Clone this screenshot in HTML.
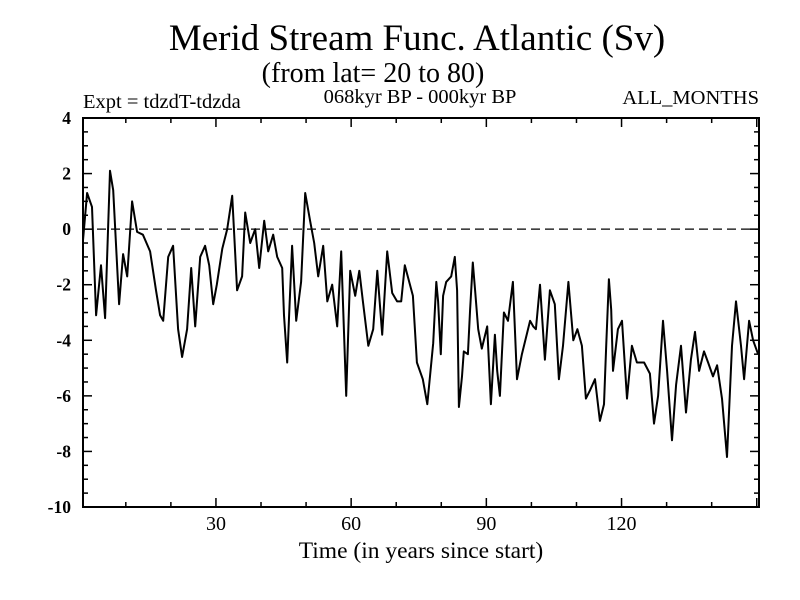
<!DOCTYPE html>
<html><head><meta charset="utf-8"><style>
html,body{margin:0;padding:0;background:#fff;}
svg{display:block;font-family:"Liberation Serif",serif;}
</style></head><body>
<svg width="800" height="600" id="chart">
<text x="417" y="50" font-size="37" text-anchor="middle">Merid Stream Func. Atlantic (Sv)</text>
<text x="373" y="82" font-size="28" text-anchor="middle">(from lat= 20 to 80)</text>
<text x="83" y="108" font-size="20.5">Expt = tdzdT-tdzda</text>
<text x="420" y="103" font-size="20.5" text-anchor="middle">068kyr BP - 000kyr BP</text>
<text x="759" y="104" font-size="20.5" text-anchor="end">ALL_MONTHS</text>
<text x="421" y="558" font-size="23.5" text-anchor="middle">Time (in years since start)</text>
<g id="axes"></g>
<g id="plot"></g>
</svg>
<script>
const years = [0.5,1.4,2.5,3.4,4.5,5.4,6.5,7.2,8.5,9.4,10.3,11.4,12.5,13.8,15.4,16.7,17.6,18.3,19.4,20.5,21.6,22.5,23.6,24.5,25.4,26.5,27.6,28.5,29.4,30.2,31.4,32.5,33.6,34.7,35.8,36.5,37.6,38.7,39.6,40.7,41.6,42.7,43.6,44.7,45.1,45.8,46.2,46.9,47.8,48.9,49.8,50.9,51.8,52.7,53.8,54.7,55.8,56.9,57.8,58.9,59.8,60.9,61.8,62.6,63.8,64.9,65.8,66.9,68.0,69.1,70.2,71.1,71.9,73.7,74.6,75.9,76.9,78.2,78.9,79.3,79.9,80.4,81.1,82.2,83.0,83.5,83.9,84.6,85.0,85.9,86.4,87.0,87.5,88.2,89.0,90.2,91.0,91.9,92.4,93.0,93.9,94.8,95.9,96.8,97.9,99.7,100.4,101.0,101.9,103.0,104.1,105.2,106.1,107.0,108.2,109.3,110.2,111.2,112.1,113.0,114.1,115.2,116.1,116.6,117.2,117.7,118.1,119.2,120.1,121.2,122.3,123.4,125.0,126.3,127.2,128.1,129.2,130.1,131.2,132.1,133.2,134.3,135.4,136.3,137.2,138.3,139.2,140.3,141.2,142.3,143.4,144.5,145.4,146.5,147.2,148.3,149.2,150.3];
const values = [-0.4,1.3,0.8,-3.1,-1.3,-3.2,2.1,1.4,-2.7,-0.9,-1.7,1.0,-0.1,-0.2,-0.8,-2.2,-3.1,-3.3,-1.0,-0.6,-3.6,-4.6,-3.6,-1.4,-3.5,-1.0,-0.6,-1.3,-2.7,-2.0,-0.7,0.0,1.2,-2.2,-1.7,0.6,-0.5,0.0,-1.4,0.3,-0.8,-0.2,-1.0,-1.4,-3.1,-4.8,-3.2,-0.6,-3.3,-1.9,1.3,0.3,-0.5,-1.7,-0.6,-2.6,-2.0,-3.5,-0.8,-6.0,-1.5,-2.4,-1.5,-2.6,-4.2,-3.6,-1.5,-3.8,-0.8,-2.3,-2.6,-2.6,-1.3,-2.4,-4.8,-5.4,-6.3,-4.1,-1.9,-2.6,-4.5,-2.4,-1.9,-1.7,-1.0,-2.2,-6.4,-5.3,-4.4,-4.5,-2.9,-1.2,-2.2,-3.6,-4.3,-3.5,-6.3,-3.8,-5.1,-6.0,-3.0,-3.3,-1.9,-5.4,-4.5,-3.3,-3.5,-3.6,-2.0,-4.7,-2.2,-2.7,-5.4,-4.2,-1.9,-4.0,-3.6,-4.2,-6.1,-5.8,-5.4,-6.9,-6.3,-4.2,-1.8,-2.9,-5.1,-3.6,-3.3,-6.1,-4.2,-4.8,-4.8,-5.2,-7.0,-6.0,-3.3,-5.1,-7.6,-5.6,-4.2,-6.6,-4.7,-3.7,-5.1,-4.4,-4.8,-5.3,-4.9,-6.1,-8.2,-4.2,-2.6,-4.2,-5.4,-3.3,-4.0,-4.5];
const yTicks = [4,2,0,-2,-4,-6,-8,-10];
const yTickLabels = ["4","2","0","-2","-4","-6","-8","-10"];
const xTicks = [30,60,90,120];
const xTickLabels = ["30","60","90","120"];

const L=83,R=759,T=118,B=507, X0=0.5,X1=150.5, Y0=-10,Y1=4;
const sx=v=>L+(v-X0)/(X1-X0)*(R-L);
const sy=v=>B-(v-Y0)/(Y1-Y0)*(B-T);
const NS="http://www.w3.org/2000/svg";
const axes=document.getElementById('axes'), plot=document.getElementById('plot');
function mk(tag,attrs,parent){const e=document.createElementNS(NS,tag);for(const k in attrs)e.setAttribute(k,attrs[k]);parent.appendChild(e);return e;}

const frame=mk('rect',{x:L,y:T,width:R-L,height:B-T,fill:'none',stroke:'#000','stroke-width':2},axes);



for(let v=Y0;v<=Y1+1e-9;v+=0.5){
  const y=sy(v), major=Math.abs(v%2)<1e-9, len=major?9:5;
  const t1=mk('line',{x1:L,x2:L+len,y1:y,y2:y,stroke:'#000','stroke-width':1.5},axes);
  
  
  const t2=mk('line',{x1:R,x2:R-len,y1:y,y2:y,stroke:'#000','stroke-width':1.5},axes);
  
  
}
yTicks.forEach((v,i)=>{
  const t=mk('text',{x:71,y:sy(v)+6,'font-size':17.5,'font-weight':'bold','text-anchor':'end'},axes);
  t.textContent=yTickLabels[i];
  
  
});
for(let v=10;v<=150;v+=10){
  const x=sx(v), major=v%30===0, len=major?9:5;
  const a=mk('line',{x1:x,x2:x,y1:B,y2:B-len,stroke:'#000','stroke-width':1.5},axes);
  
  
  const b=mk('line',{x1:x,x2:x,y1:T,y2:T+len,stroke:'#000','stroke-width':1.5},axes);
  
  
}
xTicks.forEach((v,i)=>{
  const t=mk('text',{x:sx(v),y:530,'font-size':20,'text-anchor':'middle'},axes);
  t.textContent=xTickLabels[i];
  
  
});
const zl=mk('line',{x1:L,x2:R,y1:sy(0),y2:sy(0),stroke:'#000','stroke-width':1.3,'stroke-dasharray':'9,5'},plot);


const d=years.map((y,i)=>(i?'L':'M')+sx(y).toFixed(1)+','+sy(values[i]).toFixed(1)).join(' ');
const line=mk('path',{d:d,fill:'none',stroke:'#000','stroke-width':2,'stroke-linejoin':'round'},plot);


</script>
</body></html>
